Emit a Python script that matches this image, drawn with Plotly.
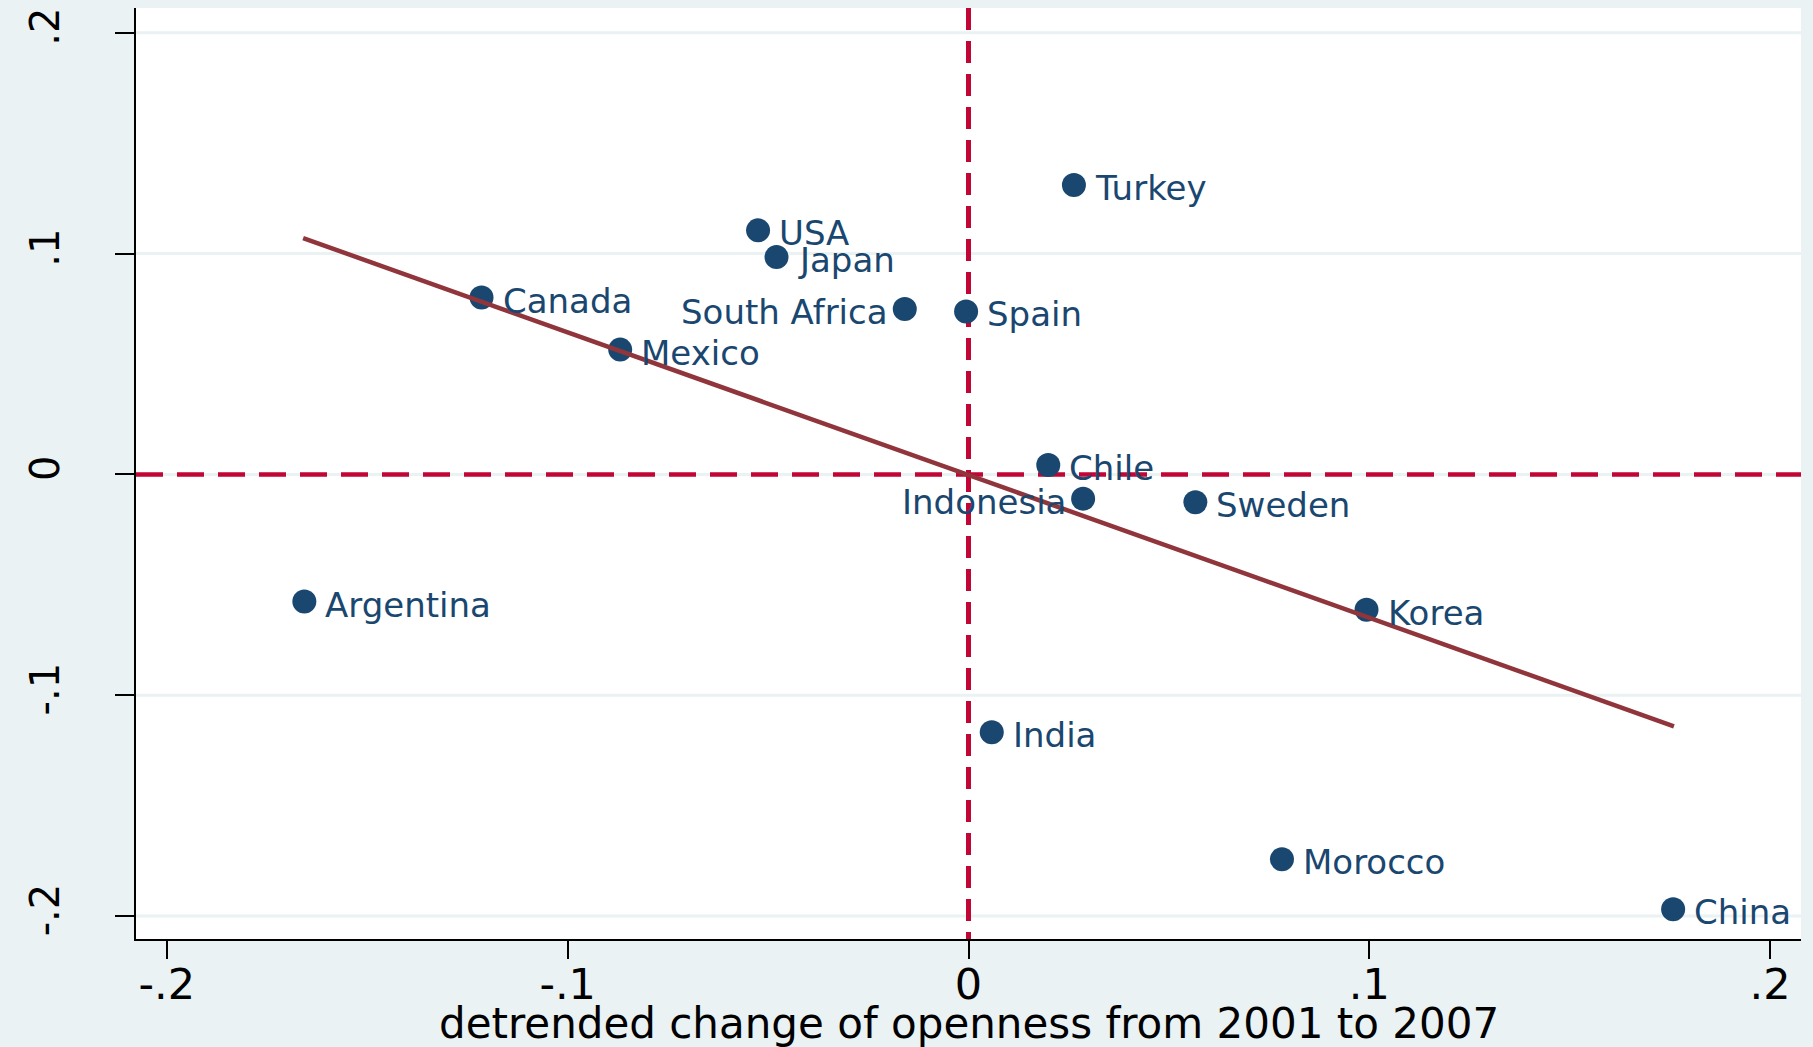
import plotly.graph_objects as go

# ---- data ----
countries = ["Turkey", "USA", "Japan", "Canada", "South Africa", "Spain", "Mexico",
             "Chile", "Indonesia", "Sweden", "Argentina", "Korea", "India", "Morocco", "China"]
openness_change = [0.0263, -0.0525, -0.0479, -0.1215, -0.0159, -0.0006, -0.0869,
                   0.0199, 0.0286, 0.0566, -0.1657, 0.0993, 0.0058, 0.0782, 0.1758]
outcome = [0.131, 0.1105, 0.0984, 0.0801, 0.0749, 0.0738, 0.0565,
           0.0042, -0.0110, -0.0126, -0.0576, -0.0613, -0.1168, -0.1743, -0.1969]
label_side = ["right", "right", "right", "right", "left",
              "right", "right", "right", "left", "right",
              "right", "right", "right", "right", "right"]

fit_x = [-0.166, 0.176]
fit_y = [0.107, -0.1141]

x_tickvals = [-0.2, -0.1, 0, 0.1, 0.2]
x_ticktext = ["-.2", "-.1", "0", ".1", ".2"]
y_tickvals = [-0.2, -0.1, 0, 0.1, 0.2]
y_ticktext = ["-.2", "-.1", "0", ".1", ".2"]
x_title = "detrended change of openness from 2001 to 2007"

# ---- styles ----
NAVY = "#1a476f"
MAROON = "#90353b"
CRANBERRY = "#c10534"
BG = "#eaf2f3"
FONT = "DejaVu Sans"

fig = go.Figure()

# grid lines (drawn as below-layer shapes so the dashed reference lines sit above them)
for v in y_tickvals:
    fig.add_hline(y=v, line=dict(color=BG, width=3), layer="below")

fig.add_hline(y=0, line=dict(color=CRANBERRY, width=4.5, dash="27px,14px"), layer="below")
fig.add_shape(type="line", xref="x", yref="paper", x0=0, x1=0, y0=1, y1=0,
              line=dict(color=CRANBERRY, width=5, dash="22px,11px"), layer="below")

fig.add_trace(go.Scatter(
    x=openness_change, y=outcome, mode="markers",
    marker=dict(color=NAVY, size=24, line=dict(width=0)),
    text=countries, hoverinfo="text", showlegend=False,
))

fig.add_trace(go.Scatter(
    x=fit_x, y=fit_y, mode="lines",
    line=dict(color=MAROON, width=4.5),
    showlegend=False, hoverinfo="skip",
))

for name, xv, yv, side in zip(countries, openness_change, outcome, label_side):
    fig.add_annotation(
        x=xv, y=yv, xref="x", yref="y", text=name, showarrow=False,
        xanchor="left" if side == "right" else "right", yanchor="middle",
        xshift=19 if side == "right" else -15, yshift=-3,
        font=dict(family=FONT, size=34, color=NAVY),
    )

fig.add_annotation(
    x=0.5, y=-0.091, xref="paper", yref="paper", text=x_title, showarrow=False,
    xanchor="center", yanchor="middle",
    font=dict(family=FONT, size=42, color="black"),
)

fig.update_layout(
    width=1813, height=1047,
    margin=dict(l=136, r=12, t=8, b=108, autoexpand=False),
    paper_bgcolor=BG, plot_bgcolor="white",
    font=dict(family=FONT, color="black"),
    showlegend=False,
)

fig.update_xaxes(
    range=[-0.2077, 0.2077],
    tickvals=x_tickvals, ticktext=x_ticktext,
    tickfont=dict(family=FONT, size=43, color="black"),
    ticks="outside", ticklen=18, tickwidth=2, tickcolor="black",
    showline=True, linecolor="black", linewidth=2,
    showgrid=False, zeroline=False, automargin=False,
    ticklabelstandoff=-12,
)

fig.update_yaxes(
    range=[-0.2104, 0.2112],
    tickvals=y_tickvals, ticktext=y_ticktext,
    tickangle=-90,
    tickfont=dict(family=FONT, size=40, color="black"),
    ticks="outside", ticklen=19, tickwidth=2, tickcolor="black",
    showline=True, linecolor="black", linewidth=2,
    showgrid=False, zeroline=False, automargin=False,
    ticklabelstandoff=40,
)

fig.write_html("out.html")
